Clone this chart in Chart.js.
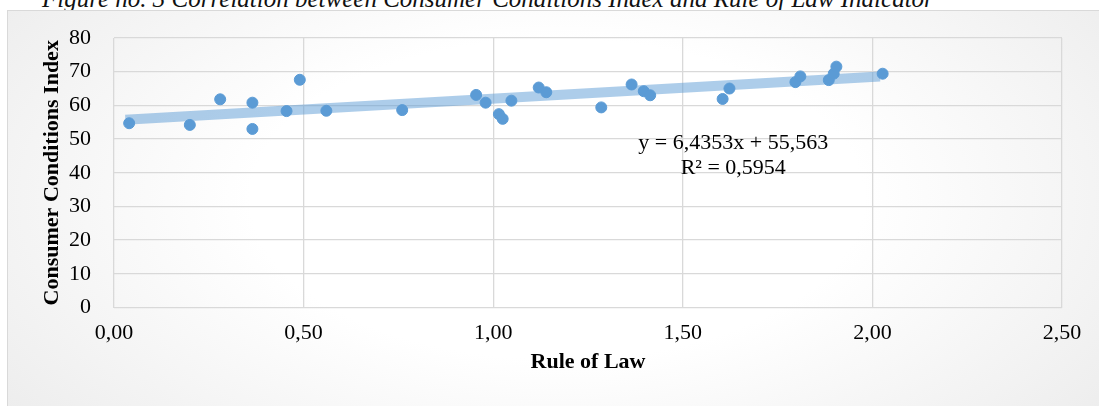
<!DOCTYPE html>
<html>
<head>
<meta charset="utf-8">
<script src="https://cdn.jsdelivr.net/npm/chart.js@4.4.1/dist/chart.umd.min.js"></script>
<style>
  html, body { margin: 0; padding: 0; width: 1099px; height: 406px; overflow: hidden; background: #ffffff; }
  #caption {
    position: absolute; left: 42px; top: -14px;
    font: italic 25px "Liberation Serif", "Times New Roman", serif;
    line-height: 25px; white-space: nowrap; color: #111;
  }
  #frame {
    position: absolute; left: 7px; top: 10px; width: 1100px; height: 420px;
    border: 1px solid #d9d9d9; box-sizing: border-box;
    background: radial-gradient(ellipse 62% 85% at 50% 45%, #ffffff 0%, #ffffff 45%, #ededed 100%);
  }
  #chart { position: absolute; left: 0; top: 0; }
</style>
</head>
<body>
<div id="caption">Figure no. 3 Correlation between Consumer Conditions Index and Rule of Law Indicator</div>
<div id="frame"></div>
<canvas id="chart" width="1099" height="406"></canvas>
<script>
// Rule of Law indicator (x) and Consumer Conditions Index (y), one entry per country
const ruleOfLaw = [0.04, 0.20, 0.28, 0.365, 0.365, 0.455, 0.49, 0.56, 0.76, 0.955,
                   0.98, 1.015, 1.025, 1.048, 1.12, 1.14, 1.285, 1.365, 1.397, 1.414,
                   1.605, 1.623, 1.797, 1.81, 1.885, 1.898, 1.905, 2.027];
const consumerConditions = [54.7, 54.2, 61.8, 60.8, 53.0, 58.3, 67.6, 58.4, 58.6, 63.1,
                            60.8, 57.4, 56.0, 61.4, 65.3, 63.9, 59.4, 66.2, 64.2, 63.0,
                            61.9, 65.0, 66.9, 68.6, 67.5, 69.4, 71.5, 69.4];

// Linear trend reported for the series
const trendSlope = 6.4353;
const trendIntercept = 55.563;
const trendRSquared = 0.5954;
const trendSpan = [0.03, 2.02];

// Axis ranges and tick steps
const xRange = [0, 2.5];
const xStep = 0.5;
const yRange = [0, 80];
const yStep = 10;

const axisTitleX = 'Rule of Law';
const axisTitleY = 'Consumer Conditions Index';

const comma = (v, d) => v.toFixed(d).replace('.', ',');
const serif = '"Liberation Serif", "Times New Roman", serif';

const points = ruleOfLaw.map((x, i) => ({ x, y: consumerConditions[i] }));
const trendPoints = trendSpan.map(x => ({ x, y: trendSlope * x + trendIntercept }));

// Writes the trend equation and R² beside the line
const equationLabel = {
  id: 'equationLabel',
  afterDatasetsDraw(chart, args, opts) {
    const { ctx, scales } = chart;
    const cx = scales.x.getPixelForValue(opts.at.x);
    const cy = scales.y.getPixelForValue(opts.at.y);
    ctx.save();
    ctx.font = '22px ' + serif;
    ctx.fillStyle = '#000';
    ctx.textAlign = 'center';
    ctx.textBaseline = 'middle';
    ctx.fillText('y = ' + comma(trendSlope, 4) + 'x + ' + comma(trendIntercept, 3), cx, cy);
    ctx.fillText('R² = ' + comma(trendRSquared, 4), cx, cy + 25);
    ctx.restore();
  }
};

const tickFont = { family: serif, size: 22 };
const titleFont = { family: serif, size: 22, weight: 'bold' };
const gridStyle = { color: '#d9d9d9', lineWidth: 1.3, drawTicks: false };

new Chart(document.getElementById('chart'), {
  type: 'scatter',
  data: {
    datasets: [
      {
        data: points,
        backgroundColor: '#5b9bd5',
        borderColor: '#5b9bd5',
        borderWidth: 1,
        pointRadius: 5.5,
        pointHoverRadius: 5.5,
        order: 1
      },
      {
        type: 'line',
        data: trendPoints,
        borderColor: 'rgba(91,155,213,0.5)',
        borderWidth: 10,
        borderCapStyle: 'butt',
        pointRadius: 0,
        fill: false,
        order: 2
      }
    ]
  },
  options: {
    responsive: false,
    animation: false,
    events: [],
    layout: { padding: { left: 0, right: 37, top: 38, bottom: 0 } },
    plugins: {
      legend: { display: false },
      tooltip: { enabled: false },
      equationLabel: { at: { x: 1.633, y: 48.8 } }
    },
    scales: {
      x: {
        type: 'linear',
        min: xRange[0], max: xRange[1],
        ticks: { stepSize: xStep, padding: 13, color: '#000', font: tickFont,
                 callback: v => comma(v, 2) },
        grid: gridStyle,
        border: { display: false },
        title: { display: true, text: axisTitleX, color: '#000', font: titleFont,
                 padding: { top: 0, bottom: 30 } },
        afterFit(scale) { scale.height = 98.5; }
      },
      y: {
        min: yRange[0], max: yRange[1],
        ticks: { stepSize: yStep, padding: 23, color: '#000', font: tickFont },
        grid: gridStyle,
        border: { display: false },
        title: { display: true, text: axisTitleY, color: '#000', font: titleFont,
                 padding: { top: 39, bottom: 0 } },
        afterFit(scale) { scale.width = 114; }
      }
    }
  },
  plugins: [equationLabel]
});
</script>
</body>
</html>
